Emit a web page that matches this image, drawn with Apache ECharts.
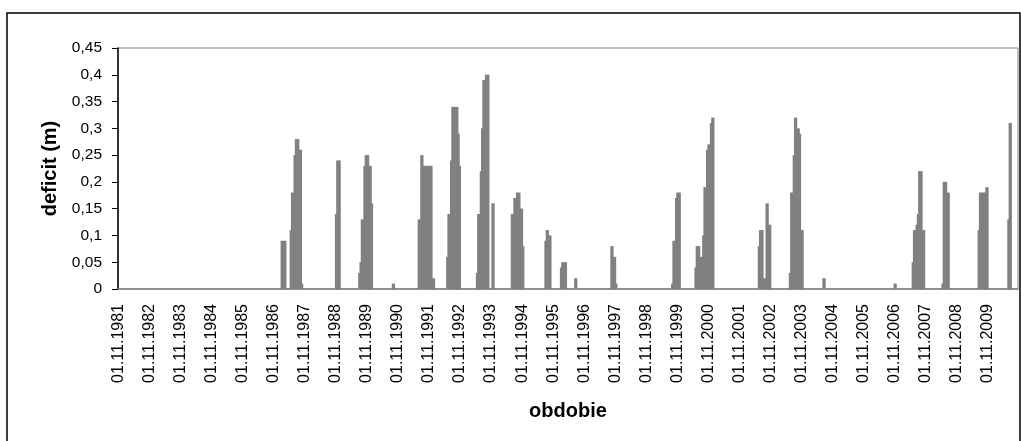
<!DOCTYPE html>
<html>
<head>
<meta charset="utf-8">
<script src="https://cdn.jsdelivr.net/npm/echarts@6/dist/echarts.min.js"></script>
<style>
html,body{margin:0;padding:0;background:#fff;}
#c{width:1021px;height:441px;}
</style>
</head>
<body>
<div id="c"></div>
<script>
// Hydrological years (Nov–Oct), half-month periods
const firstYear = 1981;
const lastYear = 2009;
const periodDays = ['01', '16'];

// Y axis ticks
const yMin = 0, yMax = 0.45, yStep = 0.05;

// deficit (m), one line per hydrological year starting 01.11.YYYY (24 half-month values)
const deficit = [
/*1981*/ 0,0,0,0,0,0,0,0,0,0,0,0,0,0,0,0,0,0,0,0,0,0,0,0,
/*1982*/ 0,0,0,0,0,0,0,0,0,0,0,0,0,0,0,0,0,0,0,0,0,0,0,0,
/*1983*/ 0,0,0,0,0,0,0,0,0,0,0,0,0,0,0,0,0,0,0,0,0,0,0,0,
/*1984*/ 0,0,0,0,0,0,0,0,0,0,0,0,0,0,0,0,0,0,0,0,0,0,0,0,
/*1985*/ 0,0,0,0,0,0,0,0,0,0,0,0,0,0,0,0,0,0,0,0,0,0,0,0,
/*1986*/ 0,0,0,0,0,0,0.09,0.09,0.09,0.09,0,0,0,0.11,0.18,0.18,0.25,0.28,0.28,0.28,0.26,0.26,0.01,0,
/*1987*/ 0,0,0,0,0,0,0,0,0,0,0,0,0,0,0,0,0,0,0,0,0,0,0,0,
/*1988*/ 0.14,0.24,0.24,0.24,0,0,0,0,0,0,0,0,0,0,0,0,0,0,0.03,0.05,0.13,0.13,0.23,0.25,
/*1989*/ 0.25,0.25,0.23,0.23,0.16,0,0,0,0,0,0,0,0,0,0,0,0,0,0,0,0.01,0.01,0,0,
/*1990*/ 0,0,0,0,0,0,0,0,0,0,0,0,0,0,0,0,0.13,0.13,0.25,0.25,0.23,0.23,0.23,0.23,
/*1991*/ 0.23,0.23,0.23,0.02,0.02,0,0,0,0,0,0,0,0,0,0.06,0.14,0.14,0.24,0.34,0.34,0.34,0.34,0.34,0.29,
/*1992*/ 0.23,0,0,0,0,0,0,0,0,0,0,0,0,0.03,0.14,0.14,0.22,0.30,0.39,0.39,0.40,0.40,0.40,0,
/*1993*/ 0,0.16,0.16,0,0,0,0,0,0,0,0,0,0,0,0,0,0.14,0.14,0.17,0.17,0.18,0.18,0.18,0.15,
/*1994*/ 0.15,0.08,0,0,0,0,0,0,0,0,0,0,0,0,0,0,0,0,0.09,0.11,0.11,0.10,0.10,0,
/*1995*/ 0,0,0,0,0,0,0.04,0.05,0.05,0.05,0.05,0,0,0,0,0,0,0.02,0.02,0,0,0,0,0,
/*1996*/ 0,0,0,0,0,0,0,0,0,0,0,0,0,0,0,0,0,0,0,0,0,0.08,0.08,0.06,
/*1997*/ 0.06,0.01,0,0,0,0,0,0,0,0,0,0,0,0,0,0,0,0,0,0,0,0,0,0,
/*1998*/ 0,0,0,0,0,0,0,0,0,0,0,0,0,0,0,0,0,0,0,0,0.01,0.09,0.09,0.17,
/*1999*/ 0.18,0.18,0.18,0,0,0,0,0,0,0,0,0,0,0,0.04,0.08,0.08,0.08,0.06,0.06,0.10,0.19,0.19,0.26,
/*2000*/ 0.27,0.27,0.31,0.32,0.32,0,0,0,0,0,0,0,0,0,0,0,0,0,0,0,0,0,0,0,
/*2001*/ 0,0,0,0,0,0,0,0,0,0,0,0,0,0,0,0.08,0.11,0.11,0.11,0.02,0.02,0.16,0.16,0.12,
/*2002*/ 0.12,0,0,0,0,0,0,0,0,0,0,0,0,0,0,0.03,0.18,0.18,0.25,0.32,0.32,0.30,0.30,0.29,
/*2003*/ 0.11,0.11,0,0,0,0,0,0,0,0,0,0,0,0,0,0,0,0.02,0.02,0,0,0,0,0,
/*2004*/ 0,0,0,0,0,0,0,0,0,0,0,0,0,0,0,0,0,0,0,0,0,0,0,0,
/*2005*/ 0,0,0,0,0,0,0,0,0,0,0,0,0,0,0,0,0,0,0,0,0,0,0,0,
/*2006*/ 0.01,0.01,0,0,0,0,0,0,0,0,0,0,0,0,0.05,0.11,0.11,0.12,0.14,0.22,0.22,0.22,0.11,0.11,
/*2007*/ 0,0,0,0,0,0,0,0,0,0,0,0,0,0.01,0.20,0.20,0.20,0.18,0.18,0,0,0,0,0,
/*2008*/ 0,0,0,0,0,0,0,0,0,0,0,0,0,0,0,0,0,0.11,0.18,0.18,0.18,0.18,0.18,0.19,
/*2009*/ 0.19,0,0,0,0,0,0,0,0,0,0,0,0,0,0,0,0.13,0.31,0.31,0,0,0,0,0
];

// Category labels: dd.mm.yyyy for each half-month period
const categories = [];
for (let y = firstYear; y <= lastYear; y++) {
  for (let m = 0; m < 12; m++) {
    const month = (10 + m) % 12 + 1;
    const year = month >= 11 ? y : y + 1;
    for (const d of periodDays) {
      categories.push(d + '.' + String(month).padStart(2, '0') + '.' + year);
    }
  }
}
const perYear = categories.length / (lastYear - firstYear + 1);
if (deficit.length !== categories.length) console.error('length mismatch', deficit.length, categories.length);

const chart = echarts.init(document.getElementById('c'), null, {renderer: 'canvas'});
chart.setOption({
  animation: false,
  backgroundColor: '#ffffff',
  textStyle: {fontFamily: '"Liberation Sans", Arial, sans-serif'},
  grid: {left: 118, top: 48, width: 900, height: 241, show: true, borderColor: '#808080', borderWidth: 1},
  xAxis: {
    type: 'category',
    data: categories,
    boundaryGap: true,
    axisLine: {lineStyle: {color: '#808080', width: 1.5}},
    axisTick: {show: false},
    axisLabel: {
      interval: (i) => i % perYear === 0,
      rotate: 90, margin: 15, fontSize: 16, color: '#000'
    },
    splitLine: {show: false},
    name: 'obdobie', nameLocation: 'middle', nameGap: 112,
    nameTextStyle: {fontSize: 20, fontWeight: 'bold', color: '#000'}
  },
  yAxis: {
    type: 'value', min: yMin, max: yMax, interval: yStep,
    axisLine: {show: true, lineStyle: {color: '#000', width: 1.5}},
    axisTick: {show: true, length: 6, lineStyle: {color: '#000', width: 1}},
    splitLine: {show: false},
    axisLabel: {
      margin: 16, fontSize: 15.5, color: '#000',
      formatter: (v) => String(Number(v.toFixed(2))).replace('.', ',')
    },
    name: 'deficit (m)', nameLocation: 'middle', nameGap: 58, nameRotate: 90,
    nameTextStyle: {fontSize: 20, fontWeight: 'bold', color: '#000'}
  },
  series: [{
    type: 'bar',
    data: deficit,
    barWidth: 2,
    silent: true,
    itemStyle: {color: '#808080'}
  }],
  graphic: [{
    type: 'rect',
    shape: {x: 7, y: 13, width: 1013, height: 440},
    style: {fill: null, stroke: '#000', lineWidth: 1.5},
    silent: true
  }]
});
</script>
</body>
</html>
